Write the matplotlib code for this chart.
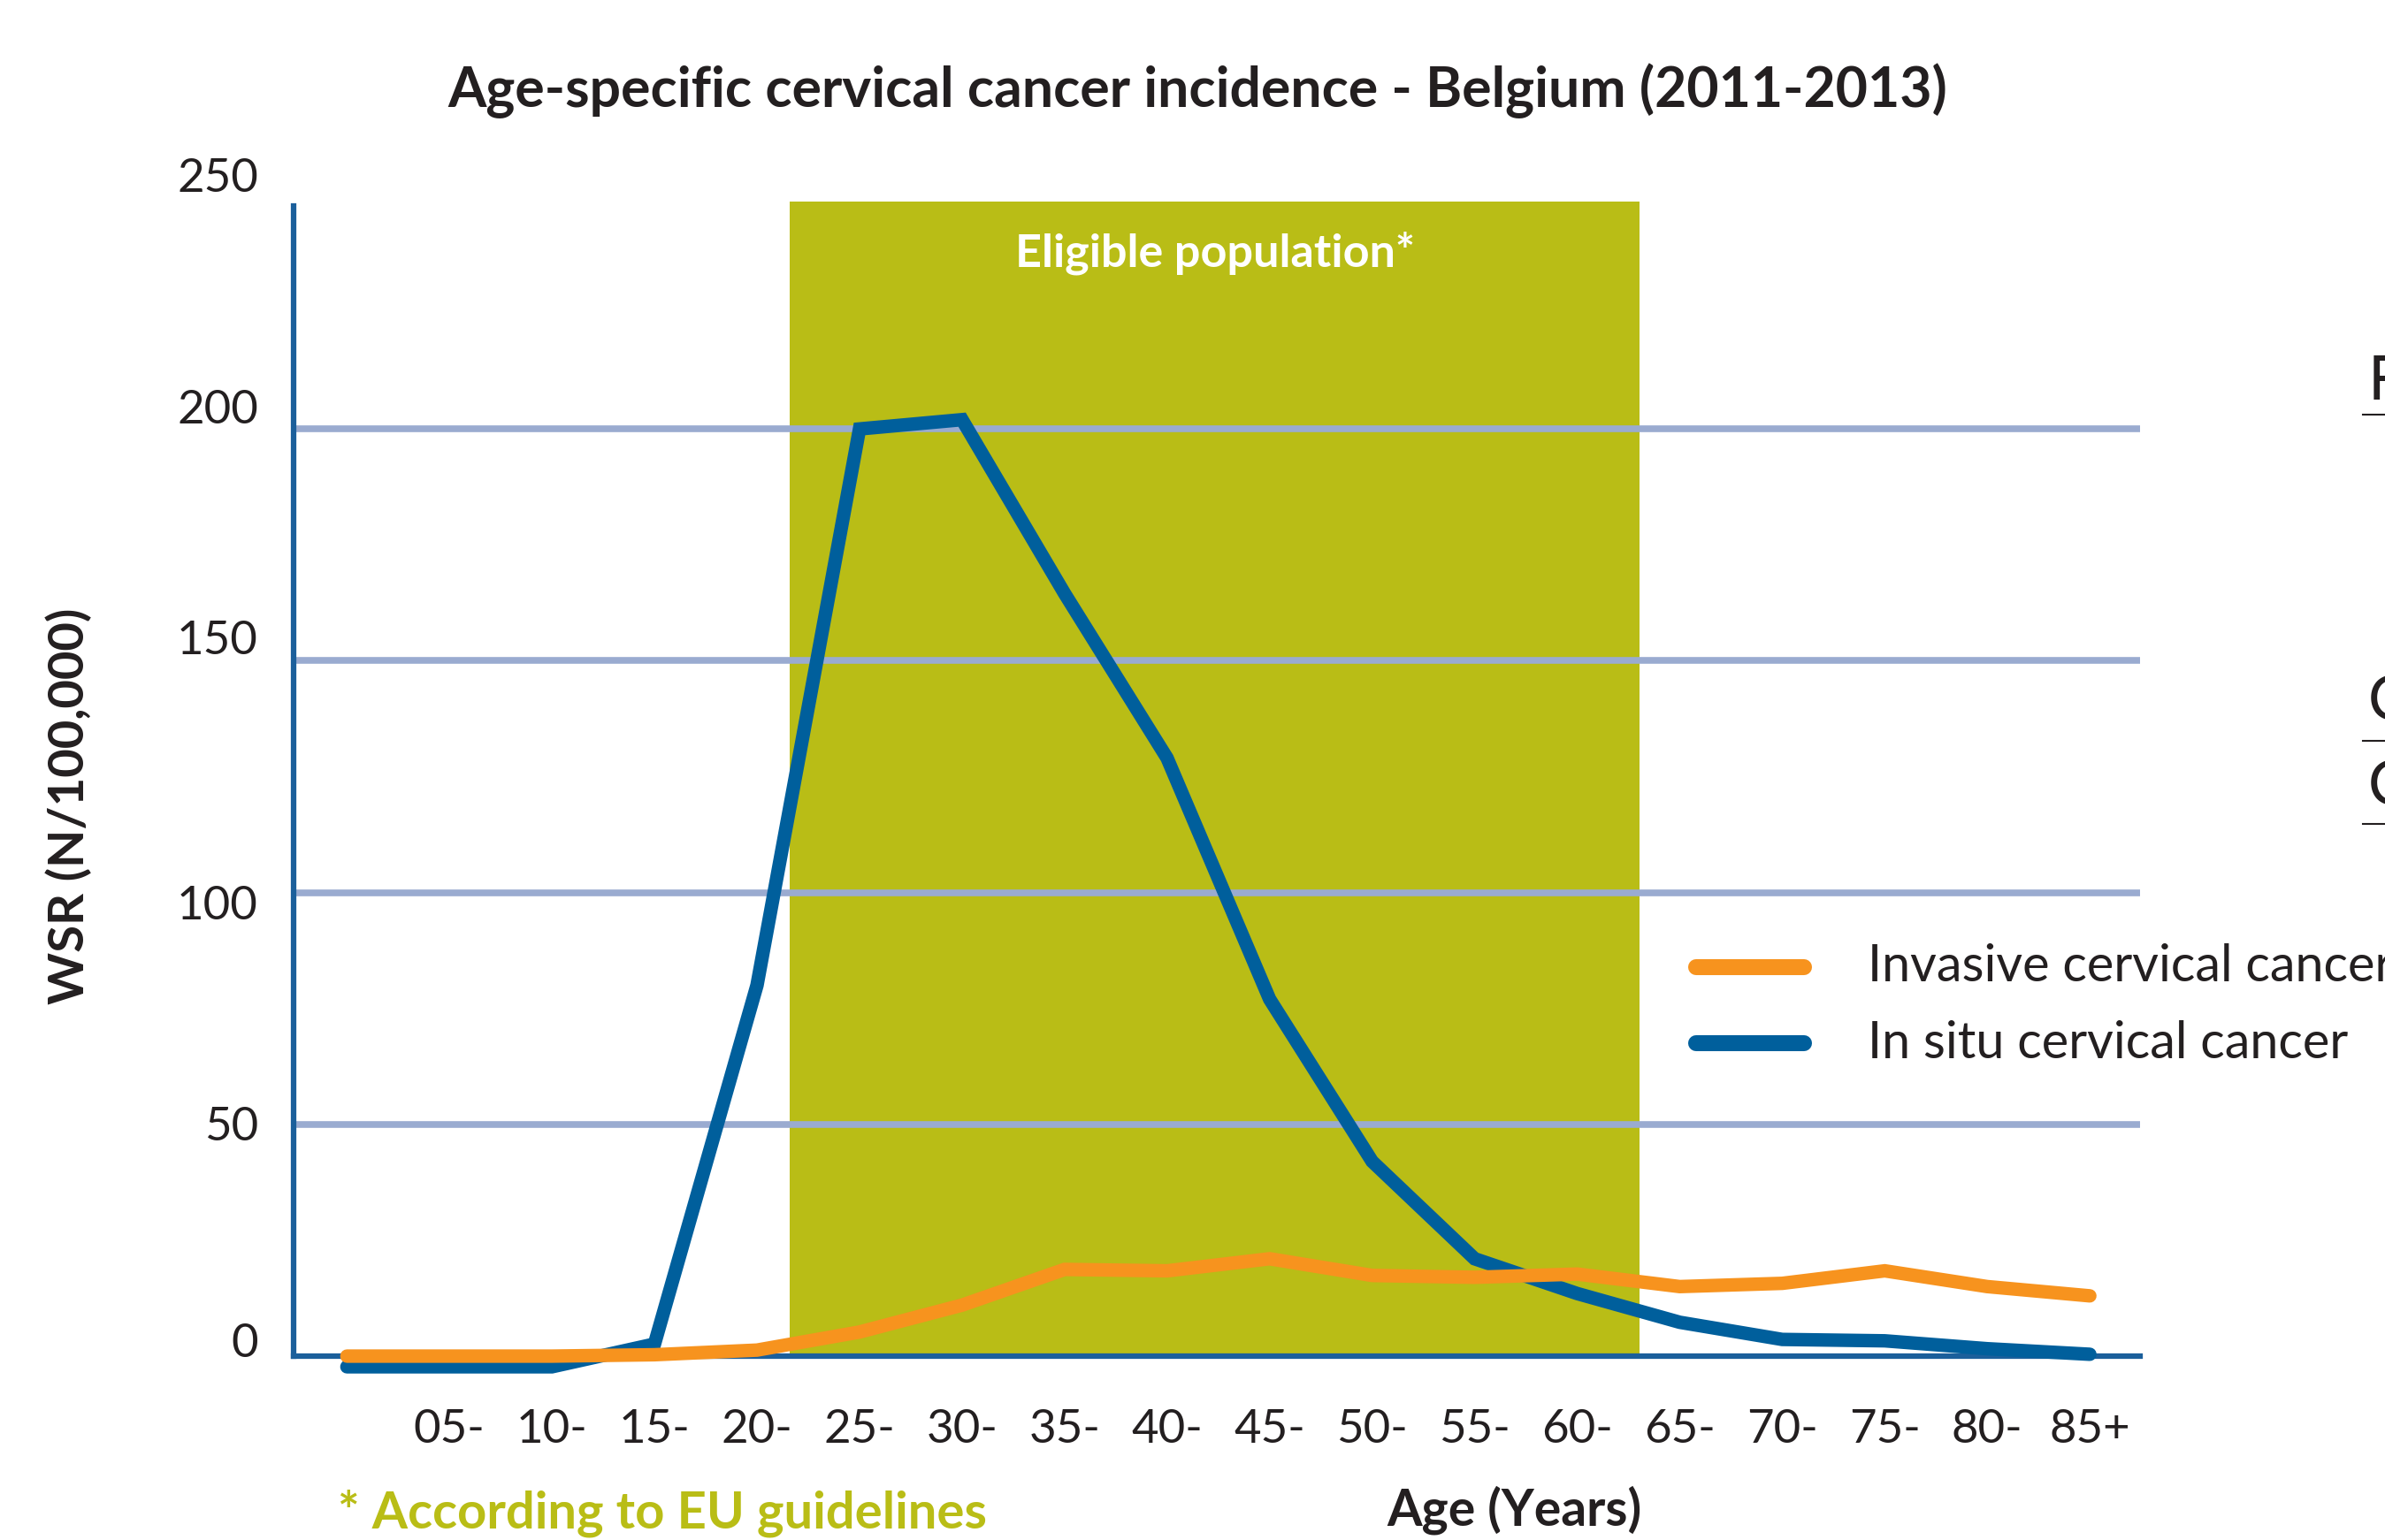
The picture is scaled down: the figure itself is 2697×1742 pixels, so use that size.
import matplotlib
matplotlib.use("Agg")
import matplotlib.pyplot as plt
from matplotlib.lines import Line2D
import numpy as np

plt.rcParams["font.family"] = ["Lato", "DejaVu Sans"]

# data
age_labels = ["", "05-", "10-", "15-", "20-", "25-", "30-", "35-", "40-", "45-",
              "50-", "55-", "60-", "65-", "70-", "75-", "80-", "85+"]
in_situ = [-2.3, -2.3, -2.3, 2.6, 80, 200, 202, 164.5, 129, 77,
           42, 21, 13.5, 7.3, 3.6, 3.3, 1.6, 0.4]
invasive = [0, 0, 0, 0.3, 1.3, 5.2, 11, 18.7, 18.4, 21,
            17.4, 17, 17.7, 15, 15.7, 18.4, 15, 13]
eligible_span = (4.32, 12.61)
y_ticks = [0, 50, 100, 150, 200, 250]
y_nudge = [8, -2, -9, 13, 12, 12]  # label offsets as drawn in the original (px, shrunk scale)

BLUE = "#005f9c"
ORANGE = "#f7931e"
GREEN = "#b9bd16"
GRID = "#9aabd0"
AXIS = "#1b5f9b"
TEXT = "#231f20"

W, H = 2697, 1742
fig = plt.figure(figsize=(W / 100, H / 100), dpi=100)
ax = fig.add_axes([332 / W, 208 / H, (2420 - 332) / W, 1311 / H])
ax.set_xlim(-0.52, 17.49)
ax.set_ylim(0, 250)

x = np.arange(len(age_labels))

ax.axvspan(eligible_span[0], eligible_span[1], ymin=0, ymax=249 / 250,
           color=GREEN, lw=0, zorder=1)
for g in [50, 100, 150, 200]:
    ax.axhline(g, color=GRID, lw=5.5, zorder=1.5)

ax.plot(x, in_situ, color=BLUE, lw=11, solid_capstyle="round",
        solid_joinstyle="miter", clip_on=False, zorder=3)
ax.plot(x, invasive, color=ORANGE, lw=11, solid_capstyle="round",
        solid_joinstyle="miter", clip_on=False, zorder=4)

for s in ["top", "right"]:
    ax.spines[s].set_visible(False)
ax.spines["left"].set_bounds(0, 248)
for s in ["left", "bottom"]:
    ax.spines[s].set_color(AXIS)
    ax.spines[s].set_linewidth(4.5)
    ax.spines[s].set_zorder(2.5)

ax.set_xticks(x[1:])
ax.set_xticklabels(age_labels[1:], fontsize=38, color=TEXT)
ax.tick_params(axis="x", length=0, pad=43)
ax.set_yticks([])
for v, dy in zip(y_ticks, y_nudge):
    ax.annotate(str(v), xy=(0, v), xycoords=("axes fraction", "data"),
                xytext=(-40, dy * 1.72), textcoords="offset pixels",
                ha="right", va="center", fontsize=38, color=TEXT)

ax.text((eligible_span[0] + eligible_span[1]) / 2, 238, "Eligible population*",
        ha="center", va="center", fontsize=37.5, fontweight="bold", color="white")

fig.text(1354 / W, 1 - 103 / H,
         "Age-specific cervical cancer incidence - Belgium (2011-2013)",
         ha="center", va="center", fontsize=45, fontweight="bold", color=TEXT)
fig.text(78 / W, 1 - 912 / H, "WSR (N/100,000)", rotation=90,
         ha="center", va="center", fontsize=40.5, fontweight="bold", color=TEXT)
fig.text(1712 / W, 1 - 1708 / H, "Age (Years)", ha="center", va="center",
         fontsize=41, fontweight="bold", color=TEXT)
fig.text(382 / W, 1 - 1712 / H, "* According to EU guidelines", ha="left",
         va="center", fontsize=41.8, fontweight="bold", color=GREEN)

# legend drawn by hand
for yy, col, lab in [(1094, ORANGE, "Invasive cervical cancer"),
                     (1180, BLUE, "In situ cervical cancer")]:
    fig.add_artist(Line2D([1918 / W, 2040 / W], [1 - yy / H, 1 - yy / H],
                          color=col, lw=13, solid_capstyle="round"))
    fig.text(2112 / W, 1 - yy / H, lab, ha="left", va="center",
             fontsize=41.5, color=TEXT)

# cut-off fragments of the neighbouring panel at the right edge
for yy, ul, ch in [(432, 469, "F"), (795, 838, "C"), (891, 932, "C")]:
    fig.text(2678 / W, 1 - yy / H, ch, ha="left", va="center",
             fontsize=50, color=TEXT)
    fig.add_artist(Line2D([2672 / W, 1], [1 - ul / H, 1 - ul / H],
                          color=TEXT, lw=1.5))

fig.savefig("out.png", dpi=100, facecolor="white")
